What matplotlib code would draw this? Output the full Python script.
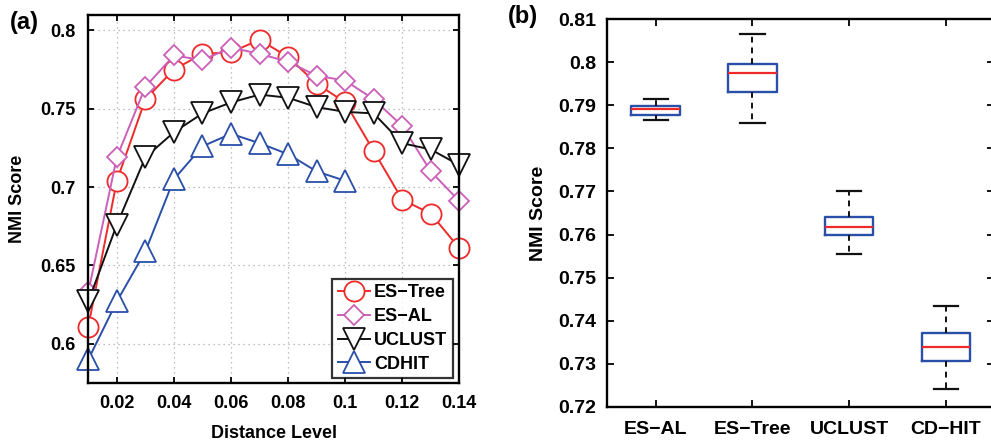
import matplotlib
matplotlib.use('Agg')
import matplotlib.pyplot as plt

plt.rcParams['font.family'] = ['Liberation Sans', 'DejaVu Sans']
plt.rcParams['font.weight'] = 'bold'

# panel (a) data
levels = [0.01, 0.02, 0.03, 0.04, 0.05, 0.06, 0.07, 0.08, 0.09, 0.10, 0.11, 0.12, 0.13, 0.14]
es_tree = [0.611, 0.704, 0.756, 0.775, 0.785, 0.786, 0.794, 0.783, 0.766, 0.754, 0.723, 0.692, 0.683, 0.661]
es_al = [0.633, 0.719, 0.764, 0.784, 0.781, 0.789, 0.785, 0.780, 0.771, 0.768, 0.756, 0.739, 0.710, 0.691]
uclust = [0.627, 0.676, 0.719, 0.735, 0.747, 0.754, 0.759, 0.757, 0.751, 0.748, 0.747, 0.728, 0.724, 0.714]
cdhit = [0.590, 0.627, 0.659, 0.705, 0.726, 0.734, 0.728, 0.721, 0.710, 0.704]
xticks_a = [0.02, 0.04, 0.06, 0.08, 0.1, 0.12, 0.14]
yticks_a = [0.6, 0.65, 0.7, 0.75, 0.8]

# panel (b) data: summary stats of the boxes
methods = ['ES\u2212AL', 'ES\u2212Tree', 'UCLUST', 'CD\u2212HIT']
whislo = [0.7866, 0.7859, 0.7555, 0.7240]
q1 = [0.7877, 0.7931, 0.7600, 0.7305]
med = [0.7891, 0.7975, 0.7618, 0.7339]
q3 = [0.7898, 0.7995, 0.7641, 0.7371]
whishi = [0.7915, 0.8066, 0.7700, 0.7433]
yticks_b = [0.72, 0.73, 0.74, 0.75, 0.76, 0.77, 0.78, 0.79, 0.8, 0.81]

fig = plt.figure(figsize=(9.91, 4.42), dpi=100)

# ---- (a) line plot
ax1 = fig.add_axes([0.0891, 0.1335, 0.3744, 0.8333])
series = [
    (es_tree, 'ES\u2212Tree', '#ee2a2a', 'o', 14.5),
    (es_al, 'ES\u2212AL', '#cc5fb8', 'D', 10),
    (uclust, 'UCLUST', '#111111', 'v', 15.5),
    (cdhit, 'CDHIT', '#2a4fa8', '^', 15.5),
]
for vals, name, col, mk, ms in series:
    ax1.plot(levels[:len(vals)], vals, color=col, marker=mk, markersize=ms,
             markerfacecolor='white', markeredgecolor=col, markeredgewidth=1.3,
             linewidth=1.4, label=name, clip_on=False)

ax1.set_xlim(0.01, 0.14)
ax1.set_ylim(0.575, 0.81)
ax1.set_xticks(xticks_a)
ax1.set_xticklabels(['%g' % t for t in xticks_a])
ax1.set_yticks(yticks_a)
ax1.set_yticklabels(['%g' % t for t in yticks_a])
ax1.grid(True, color='#aaaaaa', linestyle=(0, (1, 3)), linewidth=0.9)
ax1.tick_params(direction='in', top=True, right=True, length=4, width=1.3,
                labelsize=13, pad=9)
for s in ax1.spines.values():
    s.set_linewidth(1.7)
ax1.set_xlabel('Distance Level', fontsize=13, fontweight='bold')
ax1.set_ylabel('NMI Score', fontsize=13, fontweight='bold')
ax1.xaxis.set_label_coords(0.5, -0.136)
ax1.yaxis.set_label_coords(-0.19, 0.5)
ax1.xaxis.label.set_va('center')
ax1.yaxis.label.set_va('center')

leg = ax1.legend(loc='lower right', bbox_to_anchor=(0.982, 0.013), numpoints=1,
                 fontsize=13, frameon=True, fancybox=False, borderaxespad=0,
                 handlelength=1.8, handletextpad=0.2, labelspacing=0.38,
                 borderpad=0.3)
leg.get_frame().set_edgecolor('black')
leg.get_frame().set_linewidth(1.6)
for t in leg.get_texts():
    t.set_fontweight('bold')

fig.text(0.010, 0.95, '(a)', fontsize=17, fontweight='bold', va='center')

# ---- (b) box plot
ax2 = fig.add_axes([0.6128, 0.0799, 0.3906, 0.8765])
stats = []
for i in range(len(methods)):
    stats.append({'label': methods[i], 'whislo': whislo[i], 'q1': q1[i], 'med': med[i],
                  'q3': q3[i], 'whishi': whishi[i], 'fliers': []})
ax2.bxp(stats, positions=[1, 2, 3, 4], widths=0.5, showfliers=False,
        boxprops=dict(color='#2a4fa8', linewidth=1.7),
        medianprops=dict(color='#ee2a2a', linewidth=1.6),
        whiskerprops=dict(color='#111111', linewidth=1.4, linestyle=(0, (3, 2.5))),
        capprops=dict(color='#111111', linewidth=1.6))
ax2.set_xlim(0.5, 4.5)
ax2.set_ylim(0.72, 0.81)
ax2.set_yticks(yticks_b)
ax2.set_yticklabels(['%g' % t for t in yticks_b])
ax2.tick_params(direction='in', top=True, right=True, length=5, width=1.3,
                labelsize=14, pad=8)
ax2.tick_params(axis='x', pad=10)
for s in ax2.spines.values():
    s.set_linewidth(1.7)
ax2.set_ylabel('NMI Score', fontsize=14, fontweight='bold')
ax2.yaxis.set_label_coords(-0.178, 0.5)
ax2.yaxis.label.set_va('center')

fig.text(0.512, 0.962, '(b)', fontsize=17, fontweight='bold', va='center')

fig.savefig('out.png', dpi=100)
